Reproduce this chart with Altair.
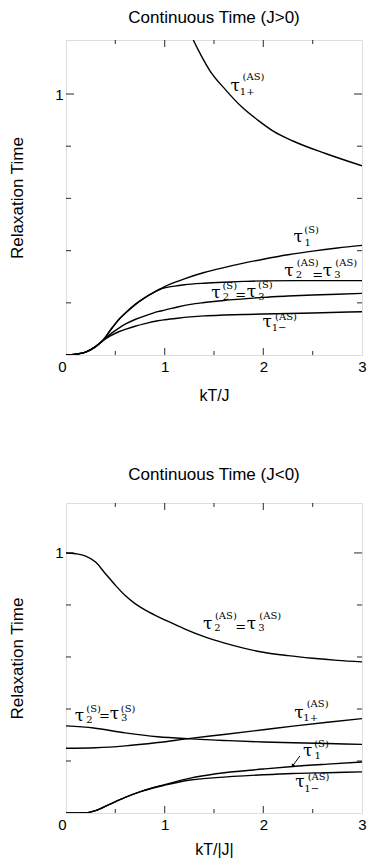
import altair as alt
import pandas as pd

# ---------------- Top panel (J>0) ----------------
top_t1S_x = [0, 0.1, 0.2, 0.3, 0.375, 0.45, 0.54, 0.6, 0.7, 0.8, 0.9, 0.95, 1.0, 1.1, 1.2, 1.4, 1.6, 1.8, 2.0, 2.25, 2.5, 2.75, 3.0]
top_t1S_y = [0, 0.003, 0.011, 0.032, 0.057, 0.095, 0.138, 0.160, 0.193, 0.220, 0.242, 0.252, 0.262, 0.278, 0.292, 0.316, 0.335, 0.352, 0.367, 0.384, 0.398, 0.410, 0.420]

top_t2AS_x = [0, 0.1, 0.2, 0.3, 0.375, 0.45, 0.54, 0.6, 0.7, 0.8, 0.9, 0.95, 1.0, 1.1, 1.2, 1.4, 1.6, 1.8, 2.0, 2.5, 3.0]
top_t2AS_y = [0, 0.003, 0.011, 0.032, 0.057, 0.095, 0.138, 0.160, 0.193, 0.220, 0.242, 0.251, 0.257, 0.264, 0.269, 0.275, 0.279, 0.282, 0.284, 0.285, 0.285]

top_t2S_x = [0, 0.1, 0.2, 0.3, 0.375, 0.45, 0.54, 0.6, 0.7, 0.8, 0.93, 1.0, 1.13, 1.26, 1.4, 1.6, 1.8, 2.0, 2.25, 2.5, 2.75, 3.0]
top_t2S_y = [0, 0.003, 0.011, 0.032, 0.056, 0.080, 0.104, 0.118, 0.136, 0.150, 0.166, 0.172, 0.184, 0.194, 0.201, 0.209, 0.215, 0.221, 0.226, 0.230, 0.233, 0.236]

top_t1m_x = [0, 0.1, 0.2, 0.3, 0.375, 0.45, 0.54, 0.6, 0.7, 0.8, 0.93, 1.0, 1.13, 1.26, 1.4, 1.6, 1.8, 2.0, 2.5, 3.0]
top_t1m_y = [0, 0.003, 0.011, 0.032, 0.055, 0.073, 0.090, 0.098, 0.110, 0.120, 0.131, 0.135, 0.141, 0.146, 0.150, 0.153, 0.155, 0.157, 0.161, 0.166]

top_t1p_x = [1.29, 1.34, 1.454, 1.62, 1.78, 1.944, 2.1, 2.3, 2.63, 3.0]
top_t1p_y = [1.207, 1.169, 1.092, 1.015, 0.951, 0.900, 0.858, 0.820, 0.772, 0.725]

# ---------------- Bottom panel (J<0) ----------------
bot_t2AS_x = [0, 0.1, 0.2, 0.3, 0.4, 0.5, 0.6, 0.7, 0.8, 0.9, 1.0, 1.2, 1.4, 1.6, 1.8, 2.0, 2.25, 2.5, 2.75, 3.0]
bot_t2AS_y = [1.0, 0.997, 0.988, 0.965, 0.920, 0.876, 0.836, 0.805, 0.781, 0.761, 0.743, 0.708, 0.678, 0.654, 0.634, 0.618, 0.605, 0.595, 0.587, 0.581]

bot_t2S_x = [0, 0.28, 0.6, 0.93, 1.26, 1.6, 2.0, 2.3, 2.65, 3.0]
bot_t2S_y = [0.335, 0.327, 0.308, 0.293, 0.285, 0.279, 0.273, 0.270, 0.267, 0.264]

bot_t1p_x = [0, 0.3, 0.6, 0.93, 1.26, 1.6, 2.0, 2.3, 2.65, 3.0]
bot_t1p_y = [0.249, 0.251, 0.258, 0.271, 0.287, 0.302, 0.320, 0.334, 0.349, 0.363]

bot_t1S_x = [0, 0.2, 0.3, 0.44, 0.6, 0.77, 1.0, 1.26, 1.52, 2.0, 2.3, 2.65, 3.0]
bot_t1S_y = [0, 0.001, 0.009, 0.033, 0.060, 0.084, 0.109, 0.134, 0.151, 0.169, 0.179, 0.188, 0.196]

bot_t1m_x = [0, 0.2, 0.3, 0.44, 0.6, 0.77, 1.0, 1.26, 1.52, 2.0, 2.3, 2.65, 3.0]
bot_t1m_y = [0, 0.001, 0.009, 0.033, 0.060, 0.084, 0.107, 0.127, 0.136, 0.147, 0.152, 0.155, 0.158]

# ---------------- Curve labels (text, x, y, kind) ----------------
top_lab_text = ["τ", "1+", "(AS)",
                "τ", "1", "(S)",
                "τ", "2", "(AS)", "=", "τ", "3", "(AS)",
                "τ", "2", "(S)", "=", "τ", "3", "(S)",
                "τ", "1−", "(AS)"]
top_lab_x = [1.716, 1.836, 1.90,
             2.353, 2.45, 2.49,
             2.26, 2.36, 2.45, 2.55, 2.65, 2.75, 2.84,
             1.52, 1.62, 1.66, 1.77, 1.88, 1.98, 2.02,
             2.04, 2.16, 2.23]
top_lab_y = [1.031, 1.006, 1.065,
             0.452, 0.428, 0.478,
             0.322, 0.305, 0.354, 0.305, 0.322, 0.305, 0.354,
             0.236, 0.221, 0.266, 0.230, 0.240, 0.224, 0.268,
             0.126, 0.102, 0.145]
top_lab_kind = ["main", "small", "small",
                "main", "small", "small",
                "main", "small", "small", "eq", "main", "small", "small",
                "main", "small", "small", "eq", "main", "small", "small",
                "main", "small", "small"]

bot_lab_text = ["τ", "2", "(AS)", "=", "τ", "3", "(AS)",
                "τ", "2", "(S)", "=", "τ", "3", "(S)",
                "τ", "1+", "(AS)",
                "τ", "1", "(S)",
                "τ", "1−", "(AS)"]
bot_lab_x = [1.435, 1.535, 1.62, 1.77, 1.88, 1.98, 2.07,
             0.137, 0.237, 0.28, 0.39, 0.49, 0.59, 0.63,
             2.36, 2.48, 2.55,
             2.45, 2.55, 2.59,
             2.37, 2.49, 2.56]
bot_lab_y = [0.728, 0.711, 0.758, 0.716, 0.727, 0.711, 0.758,
             0.372, 0.357, 0.399, 0.374, 0.380, 0.364, 0.401,
             0.386, 0.366, 0.420,
             0.238, 0.220, 0.266,
             0.118, 0.094, 0.137]
bot_lab_kind = ["main", "small", "small", "eq", "main", "small", "small",
                "main", "small", "small", "eq", "main", "small", "small",
                "main", "small", "small",
                "main", "small", "small",
                "main", "small", "small"]

# arrow pointing at tau_1^(S) in bottom panel
bot_arrow_x = [2.37]
bot_arrow_y = [0.219]
bot_arrow_x2 = [2.30]
bot_arrow_y2 = [0.183]

# ticks
x_major = [1, 2]
x_minor = [0.5, 1.5, 2.5]
y_major = [1]
y_minor = [0.2, 0.4, 0.6, 0.8]

W = 296
FONT = "Liberation Sans"
SERIF = "DejaVu Serif"
SIZES = {"main": 17, "small": 10, "eq": 13}
YTITLE = "Relaxation Time"


def series_df(pairs):
    rows = []
    for name, xs, ys in pairs:
        for a, b in zip(xs, ys):
            rows.append({"s": name, "x": a, "y": b})
    return pd.DataFrame(rows)


def panel(sdf, lx, ly, lt, lk, title, xtitle, ytop, H, toff, xtpad, arrow=None):
    xs_scale = alt.Scale(domain=[0, 3], nice=False, zero=False)
    ys_scale = alt.Scale(domain=[0, ytop], nice=False)
    xaxis = alt.Axis(values=[0, 1, 2, 3], format="d", grid=False, ticks=False, domain=False,
                     tickSize=0, labelPadding=4, titlePadding=xtpad, labelFontSize=15,
                     titleFontSize=16, labelFont=FONT, titleFont=FONT, titleFontWeight="normal",
                     labelColor="black", titleColor="black", labelFlush=False,
                     labelAlign={"condition": {"test": "datum.value === 0", "value": "right"},
                                 "value": "center"})
    yaxis = alt.Axis(values=[1], format="d", grid=False, ticks=False, domain=False, tickSize=0,
                     labelPadding=3, labelFontSize=15, titleFontSize=17, labelFont=FONT,
                     titleFont=FONT, titleFontWeight="normal", labelColor="black",
                     titleColor="black", titlePadding=28)

    def X(field):
        return alt.X(field, scale=xs_scale, axis=xaxis, title=xtitle)

    def Y(field):
        return alt.Y(field, scale=ys_scale, axis=yaxis, title=YTITLE)

    lines = alt.Chart(sdf).mark_line(color="black", strokeWidth=1.4, clip=True,
                                     interpolate="monotone").encode(
        x=X("x:Q"), y=Y("y:Q"), detail="s:N")

    ticks = []
    for vals, L in ((x_major, 7), (x_minor, 4)):
        df = pd.DataFrame({"v": vals})
        for ypix in (H - L / 2, L / 2):
            ticks.append(alt.Chart(df).mark_tick(orient="vertical", size=L, thickness=1.2,
                                                 color="black")
                         .encode(x=X("v:Q"), y=alt.value(ypix)))
    for vals, L in ((y_major, 8), (y_minor, 5)):
        df = pd.DataFrame({"v": vals})
        for xpix in (L / 2, W - L / 2):
            ticks.append(alt.Chart(df).mark_tick(orient="horizontal", size=L, thickness=1.2,
                                                 color="black")
                         .encode(y=Y("v:Q"), x=alt.value(xpix)))

    ldf = pd.DataFrame({"x": lx, "y": ly, "t": lt, "k": lk})
    ldf["fs"] = ldf["k"].map(SIZES)
    labels = alt.Chart(ldf).mark_text(font=SERIF, color="black", align="center",
                                      baseline="middle").encode(
        x=X("x:Q"), y=Y("y:Q"), text="t:N",
        size=alt.Size("fs:Q", scale=None, legend=None))

    layers = [lines] + ticks + [labels]
    if arrow is not None:
        adf = pd.DataFrame({"x": arrow[0], "y": arrow[1], "x2": arrow[2], "y2": arrow[3]})
        layers.append(alt.Chart(adf).mark_rule(color="black", strokeWidth=1).encode(
            x=X("x:Q"), y=Y("y:Q"), x2="x2:Q", y2="y2:Q"))
        layers.append(alt.Chart(adf).mark_point(shape="triangle", filled=True, size=14,
                                                color="black", angle=207, opacity=1).encode(
            x=X("x2:Q"), y=Y("y2:Q")))
    return alt.layer(*layers).properties(
        width=W, height=H,
        title=alt.TitleParams(title, font=FONT, fontSize=17, fontWeight="normal",
                              color="black", offset=toff, anchor="middle"),
    )


top_df = series_df([
    ("t1S", top_t1S_x, top_t1S_y),
    ("t2AS", top_t2AS_x, top_t2AS_y),
    ("t2S", top_t2S_x, top_t2S_y),
    ("t1m", top_t1m_x, top_t1m_y),
    ("t1p", top_t1p_x, top_t1p_y),
])
bot_df = series_df([
    ("t2AS", bot_t2AS_x, bot_t2AS_y),
    ("t2S", bot_t2S_x, bot_t2S_y),
    ("t1p", bot_t1p_x, bot_t1p_y),
    ("t1S", bot_t1S_x, bot_t1S_y),
    ("t1m", bot_t1m_x, bot_t1m_y),
])

top = panel(top_df, top_lab_x, top_lab_y, top_lab_text, top_lab_kind,
            "Continuous Time (J>0)", "kT/J", 1.207, 315, 13, 13)
bot = panel(bot_df, bot_lab_x, bot_lab_y, bot_lab_text, bot_lab_kind,
            "Continuous Time (J<0)", "kT/|J|", 1.192, 310, 19, 9,
            arrow=(bot_arrow_x, bot_arrow_y, bot_arrow_x2, bot_arrow_y2))

chart = alt.vconcat(top, bot, spacing=61).properties(
    padding={"left": 0, "top": 0, "right": 0, "bottom": 0}
).configure_view(stroke="black", strokeWidth=1.5).configure(background="white")

chart.save("out.html", embed_options={"renderer": "svg", "actions": False})
